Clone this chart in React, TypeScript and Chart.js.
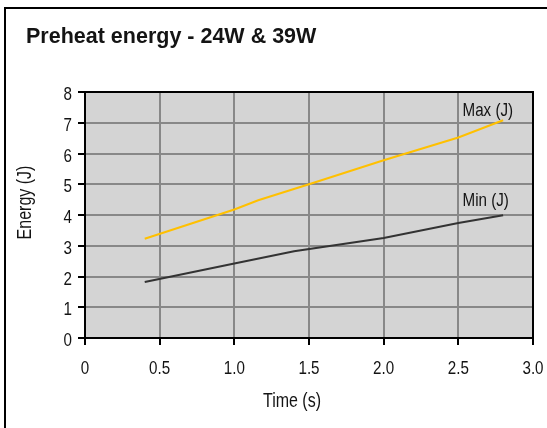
import React, { useEffect, useRef } from 'react';
import { Chart, registerables } from 'chart.js';

Chart.register(...registerables);

// ---- data ----
const maxTime = [0.4, 1.0, 1.16, 1.5, 2.0, 2.5, 2.8];
const maxEnergy = [3.23, 4.18, 4.48, 5.0, 5.78, 6.52, 7.08];
const minTime = [0.4, 1.0, 1.4, 2.0, 2.5, 2.8];
const minEnergy = [1.82, 2.42, 2.82, 3.25, 3.74, 3.99];
const seriesNames = ['Max (J)', 'Min (J)'];
const xTickValues = [0, 0.5, 1.0, 1.5, 2.0, 2.5, 3.0];
const xTickLabels = ['0', '0.5', '1.0', '1.5', '2.0', '2.5', '3.0'];
const yTickValues = [0, 1, 2, 3, 4, 5, 6, 7, 8];
const yTickLabels = ['0', '1', '2', '3', '4', '5', '6', '7', '8'];
const chartTitle = 'Preheat energy - 24W & 39W';
const xTitle = 'Time (s)';
const yTitle = 'Energy (J)';

const FONT = "'Liberation Sans', Arial, sans-serif";
const TEXT = '#141414';
const NARROW = 0.82;

function drawText(ctx: CanvasRenderingContext2D, text: string, x: number, y: number, font: string, align: CanvasTextAlign, sx: number, rot = 0) {
  ctx.save();
  ctx.font = font;
  ctx.fillStyle = TEXT;
  ctx.textAlign = align;
  ctx.textBaseline = 'alphabetic';
  ctx.translate(x, y);
  if (rot) ctx.rotate(rot);
  ctx.scale(sx, 1);
  ctx.fillText(text, 0, 0);
  ctx.restore();
}

const decorPlugin = {
  id: 'decor',
  beforeDraw(chart: any) {
    const { ctx, chartArea: a } = chart;
    ctx.save();
    ctx.fillStyle = '#d4d4d4';
    ctx.fillRect(a.left, a.top, a.right - a.left, a.bottom - a.top);
    ctx.restore();
  },
  afterDraw(chart: any) {
    const { ctx, chartArea: a } = chart;
    ctx.save();
    ctx.strokeStyle = '#000';
    ctx.lineWidth = 2;
    ctx.strokeRect(a.left, a.top, a.right - a.left, a.bottom - a.top);
    ctx.beginPath();
    ctx.moveTo(5, 430);
    ctx.lineTo(5, 8);
    ctx.lineTo(550, 8);
    ctx.stroke();
    ctx.restore();

    drawText(ctx, chartTitle, 26, 43, `bold 21.5px ${FONT}`, 'left', 1);

    const tickFont = `18.5px ${FONT}`;
    const xs = chart.scales.x;
    const ys = chart.scales.y;
    xTickValues.forEach((v, i) => {
      drawText(ctx, xTickLabels[i], xs.getPixelForValue(v), a.bottom + 35.5, tickFont, 'center', NARROW);
    });
    yTickValues.forEach((v, i) => {
      drawText(ctx, yTickLabels[i], a.left - 13, ys.getPixelForValue(v) + 8, tickFont, 'right', NARROW);
    });

    const titleFont = `19.5px ${FONT}`;
    drawText(ctx, xTitle, 292, 407, titleFont, 'center', NARROW);
    drawText(ctx, yTitle, 31, 202.5, titleFont, 'center', NARROW, -Math.PI / 2);

    const dys = [-4.3, -9];
    chart.data.datasets.forEach((_: any, i: number) => {
      const meta = chart.getDatasetMeta(i);
      const pt = meta.data[meta.data.length - 1];
      drawText(ctx, seriesNames[i], pt.x - 40.6, pt.y + dys[i], tickFont, 'left', NARROW);
    });
  },
};

export default function App() {
  const ref = useRef<HTMLCanvasElement>(null);
  useEffect(() => {
    const gridColor = (c: any) => {
      const n = c.scale.ticks.length;
      return c.index === 0 || c.index === n - 1 ? 'rgba(0,0,0,0)' : '#888888';
    };
    const chart = new Chart(ref.current!, {
      type: 'line',
      data: {
        datasets: [
          {
            label: seriesNames[0],
            data: maxTime.map((t, i) => ({ x: t, y: maxEnergy[i] })),
            borderColor: '#ffc000',
            borderWidth: 2,
            pointRadius: 0,
            tension: 0,
          },
          {
            label: seriesNames[1],
            data: minTime.map((t, i) => ({ x: t, y: minEnergy[i] })),
            borderColor: '#333333',
            borderWidth: 2,
            pointRadius: 0,
            tension: 0,
          },
        ],
      },
      options: {
        responsive: false,
        animation: false,
        devicePixelRatio: 1,
        layout: { padding: { left: 12, top: 92, right: 14, bottom: 0 } },
        plugins: { legend: { display: false }, tooltip: { enabled: false }, title: { display: false } },
        scales: {
          x: {
            type: 'linear',
            min: 0,
            max: 3,
            afterFit: (s: any) => { s.height = 90; s.paddingLeft = 0; s.paddingRight = 0; },
            ticks: { stepSize: 0.5, display: false },
            grid: { color: gridColor, lineWidth: 2, tickColor: '#000', tickWidth: 2, tickLength: 7, drawTicks: true },
            border: { display: true, color: '#000', width: 2 },
          },
          y: {
            type: 'linear',
            min: 0,
            max: 8,
            afterFit: (s: any) => { s.width = 73; s.paddingTop = 0; s.paddingBottom = 0; },
            ticks: { stepSize: 1, display: false },
            grid: { color: gridColor, lineWidth: 2, tickColor: '#000', tickWidth: 2, tickLength: 7, drawTicks: true },
            border: { display: true, color: '#000', width: 2 },
          },
        },
      },
      plugins: [decorPlugin],
    } as any);
    return () => chart.destroy();
  }, []);
  return (
    <div style={{ position: 'fixed', left: 0, top: 0, width: 547, height: 428, background: '#fff' }}>
      <canvas ref={ref} width={547} height={428} style={{ display: 'block', width: 547, height: 428 }} />
    </div>
  );
}
